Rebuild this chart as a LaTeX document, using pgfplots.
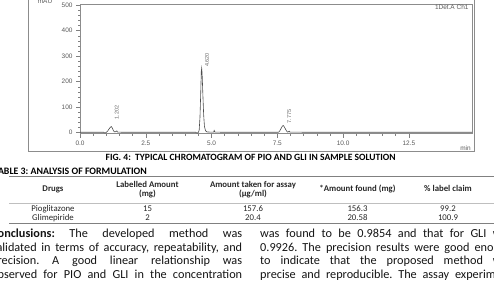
\documentclass[border=0pt]{standalone}
\usepackage{pgfplots}
\pgfplotsset{compat=1.18}
\usepackage{fontspec}
\setmainfont{Carlito}
\newfontfamily\arialf{Liberation Sans}
\begin{document}
\frenchspacing
\begin{tikzpicture}[x=1bp,y=1bp]
\useasboundingbox (0,0) rectangle (494,290);
\clip (0,0) rectangle (494,290);
% outer frame of the chromatogram
\draw[black!45, line width=0.8bp] (28,300) -- (28,139) -- (474,139) -- (474,300);
\begin{axis}[
  at={(80bp,156.3bp)}, anchor=south west,
  scale only axis, width=392bp, height=129.2bp,
  xmin=0, xmax=14.9, ymin=-4, ymax=503,
  axis line style={black!45, line width=0.6bp},
  xtick={0,2.5,5,7.5,10,12.5}, ytick={0,100,200,300,400,500},
  minor x tick num=4, minor y tick num=4,
  tick align=outside, major tick length=4bp, minor tick length=2bp,
  tick style={black!50, line width=0.5bp},
  xtick pos=bottom, ytick pos=left,
  x tick label style={/pgf/number format/fixed, /pgf/number format/fixed zerofill, /pgf/number format/precision=1},
  /pgf/number format/assume math mode=true,
  ticklabel style={font=\arialf\fontsize{6.5}{7}\selectfont, text=black!65},
  clip=false,
]
\addplot[black!70, line width=0.6bp] coordinates {
(0,1.5) (0.5,1.5) (0.9,1.5) (0.95,-1.5) (1.0,1.5) (1.05,6) (1.1,14) (1.15,21) (1.19,24) (1.23,18) (1.27,8) (1.31,3) (1.36,4) (1.4,7) (1.43,2) (2,1.5) (3,1.8) (4,1.5) (4.4,1.5) (4.45,-2) (4.5,1.5) (4.53,10) (4.56,60) (4.59,160) (4.61,240) (4.625,253) (4.64,235) (4.67,150) (4.7,70) (4.73,25) (4.77,8) (4.82,3) (5.0,2) (5.08,2) (5.1,9) (5.13,2) (6,1.5) (7.5,1.5) (7.55,2) (7.6,8) (7.65,18) (7.7,27) (7.73,28) (7.77,22) (7.82,12) (7.86,5) (7.9,2) (7.95,6) (7.98,2) (10,1.5) (14.9,1.5)
};
\node[rotate=90, font=\arialf\fontsize{5.5}{6}\selectfont, text=black!60] at (axis cs:1.4,79) {1.202};
\node[rotate=90, font=\arialf\fontsize{5.5}{6}\selectfont, text=black!60] at (axis cs:4.83,285) {4.620};
\node[rotate=90, font=\arialf\fontsize{5.5}{6}\selectfont, text=black!60] at (axis cs:7.95,64) {7.775};
\end{axis}
\node[font=\arialf\fontsize{6.5}{7}\selectfont, text=black!65] at (45,289) {mAU};
\node[font=\arialf\fontsize{6.5}{7}\selectfont, text=black!65] at (465.5,141.7) {min};
\node[font=\arialf\fontsize{6.5}{7}\selectfont, text=black!65, anchor=east] at (472,283.3) {1Det.A Ch1};
% caption
\node[font=\bfseries\fontsize{9.6}{11}\selectfont, anchor=base] at (250.7,129.5) {FIG. 4:\ \ TYPICAL CHROMATOGRAM OF PIO AND GLI IN SAMPLE SOLUTION};
\node[font=\bfseries\fontsize{9.9}{11}\selectfont, anchor=base east, inner sep=0] at (147,115.5) {TABLE 3: ANALYSIS OF FORMULATION};
% table rules
\draw[black!50, line width=1.2bp] (9,113.3) -- (500,113.3);
\draw[black!25, line width=0.5bp] (9,86.7) -- (500,86.7);
\draw[black!50, line width=1bp] (9,67) -- (500,67);
% table header
\begin{scope}[every node/.style={font=\bfseries\fontsize{8.8}{10}\selectfont, text=black!85, anchor=base, inner sep=0}]
\node at (53,99) {Drugs};
\node at (147.5,102.5) {Labelled Amount};
\node at (147.5,93.5) {(mg)};
\node at (253,102.5) {Amount taken for assay};
\node at (253,93.5) {(µg/ml)};
\node at (357.5,99) {*Amount found (mg)};
\node at (448,99) {\% label claim};
\end{scope}
\begin{scope}[every node/.style={font=\fontsize{8.8}{10}\selectfont, text=black!85, anchor=base, inner sep=0}]
\node at (53,78.5) {Pioglitazone};
\node at (147.5,78.5) {15};
\node at (253,78.5) {157.6};
\node at (357.5,78.5) {156.3};
\node at (448,78.5) {99.2};
\node at (53,70) {Glimepiride};
\node at (147.5,70) {2};
\node at (253,70) {20.4};
\node at (357.5,70) {20.58};
\node at (448,70) {100.9};
\end{scope}
% body text
\begin{scope}[every node/.style={font=\fontsize{12.3}{13.5}\selectfont\frenchspacing, text=black!92, anchor=base west, inner sep=0}]
\node at (-9,52.5) {\makebox[251bp][s]{\textbf{Conclusions:} The developed method was}};
\node at (-9,39) {\makebox[251bp][s]{validated in terms of accuracy, repeatability, and}};
\node at (-9,25.5) {\makebox[251bp][s]{precision. A good linear relationship was}};
\node at (-9,12) {\makebox[251bp][s]{observed for PIO and GLI in the concentration}};
\node at (260,52.5) {\makebox[252bp][s]{was found to be 0.9854 and that for GLI was}};
\node at (260,39) {\makebox[252bp][s]{0.9926. The precision results were good enough}};
\node at (260,25.5) {\makebox[252bp][s]{to indicate that the proposed method was}};
\node at (260,12) {\makebox[252bp][s]{precise and reproducible. The assay experiment}};
\end{scope}
\end{tikzpicture}
\end{document}
